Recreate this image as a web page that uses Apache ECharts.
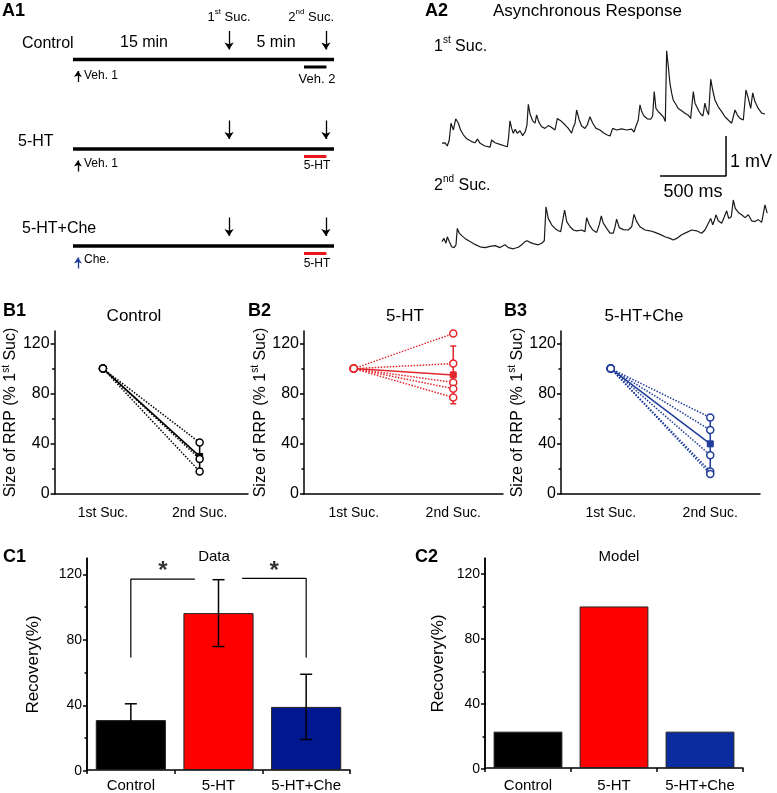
<!DOCTYPE html>
<html><head><meta charset="utf-8">
<script src="https://cdn.jsdelivr.net/npm/echarts@6.0.0/dist/echarts.min.js"></script>
<style>html,body{margin:0;padding:0;background:#fff}#c{width:777px;height:793px}</style>
</head><body><div id="c"></div>
<script>
// ---------------- DATA ----------------
// A1 protocol schematic (schematic timeline units: 0 = start, 1 = end)
const protocolRows = ['Control', '5-HT', '5-HT+Che'];
const sucTimes = [0.598, 0.969];
const drugWindow = [0.885, 0.971];
const drugLabels = ['Veh. 2', '5-HT', '5-HT'];
const preLabels = ['Veh. 1', 'Veh. 1', 'Che.'];
const preTime = 0.019;
const intervalLabels = ['15 min', '5 min'];

// A2 asynchronous response traces (time in ms, potential in mV)
const trace1T = [0,23,40,55,68,86,104,124,141,162,187,225,250,268,288,326,364,376,402,439,477,495,505,515,528,540,555,570,591,611,631,644,654,667,687,705,717,732,755,780,805,831,856,874,889,907,932,957,982,995,1008,1020,1040,1058,1083,1101,1121,1142,1167,1197,1222,1248,1273,1293,1323,1361,1399,1437,1455,1470,1487,1500,1513,1530,1555,1581,1596,1608,1621,1639,1657,1677,1692,1702,1715,1727,1740,1752,1770,1790,1816,1841,1866,1884,1896,1904,1917,1930,1945,1960,1977,1992,2005,2020,2036,2051,2068,2093,2119,2144,2169,2195,2207,2220,2237,2258,2283,2303,2321,2339,2354,2371,2396,2422,2447];
const trace1V = [0.92,0.93,0.85,1.0,1.42,1.25,1.53,1.42,1.25,1.13,1.03,0.96,0.93,1.02,0.92,0.85,0.82,1.0,0.93,0.89,0.85,0.83,1.08,1.48,1.29,1.17,1.27,1.17,1.23,1.11,1.21,1.38,1.89,1.65,1.48,1.42,1.63,1.46,1.33,1.29,1.36,1.31,1.25,1.54,1.58,1.46,1.38,1.29,1.17,1.32,1.42,1.75,1.5,1.35,1.29,1.38,1.58,1.42,1.29,1.25,1.18,1.13,1.1,1.29,1.25,1.28,1.25,1.27,1.2,1.35,1.5,1.88,1.71,1.6,1.53,1.52,1.6,2.21,1.79,1.71,1.65,1.58,1.46,3.23,2.83,2.42,2.17,2.0,1.9,1.79,1.73,1.67,1.62,1.54,1.5,2.21,1.92,1.83,1.73,1.65,1.6,1.92,1.75,1.63,2.52,2.25,2.0,1.83,1.71,1.58,1.5,1.42,1.46,1.75,1.63,1.54,1.5,2.25,2.04,1.79,2.18,1.96,1.79,1.67,1.65];
const trace2T = [0,15,30,40,55,73,91,106,116,131,149,174,212,250,288,326,364,402,439,477,503,540,578,604,629,646,667,692,730,755,775,788,805,831,856,881,899,914,929,945,970,995,1020,1058,1083,1096,1116,1142,1172,1192,1207,1222,1248,1273,1298,1311,1323,1343,1374,1411,1437,1455,1475,1500,1538,1576,1614,1652,1689,1727,1752,1778,1816,1854,1892,1930,1967,1992,2018,2036,2051,2061,2076,2093,2119,2139,2157,2172,2192,2207,2222,2245,2270,2296,2321,2346,2371,2396,2422,2447,2464];
const trace2V = [0.71,0.79,0.67,0.83,0.71,0.58,0.56,0.63,1.04,0.92,0.86,0.79,0.71,0.64,0.58,0.56,0.59,0.61,0.56,0.63,0.56,0.53,0.57,0.63,0.71,0.73,0.69,0.66,0.63,0.67,0.73,1.58,1.29,1.13,1.04,0.98,0.96,1.23,1.5,1.21,1.08,1.0,0.98,1.0,0.96,1.31,1.13,1.0,0.94,1.14,1.35,1.17,1.04,0.92,0.92,1.08,1.27,1.06,1.01,1.0,1.08,1.39,1.21,1.08,1.0,0.98,0.94,0.89,0.83,0.79,0.75,0.79,0.88,0.94,1.0,0.98,0.92,1.0,1.17,1.29,1.13,1.21,1.38,1.23,1.17,1.33,1.48,1.29,1.33,1.75,1.54,1.44,1.38,1.31,1.38,1.23,1.21,1.26,1.19,1.63,1.42];
const scaleBarMs = 500;
const scaleBarMv = 1;

// B: size of RRP (% of 1st Suc)
const bCats = ['1st Suc.', '2nd Suc.'];
const b1First = 100, b1Second = [41, 28, 18], b1Mean = [100, 30], b1Err = 10;
const b2First = 100, b2Second = [128, 104, 89, 84, 77], b2Mean = [100, 95], b2Err = 23;
const b3First = 100, b3Second = [61, 51, 31, 18, 16], b3Mean = [100, 40], b3Err = 21;
const bTitles = ['Control', '5-HT', '5-HT+Che'];

// C: recovery (%)
const cCats = ['Control', '5-HT', '5-HT+Che'];
const c1Means = [30.6, 96.2, 38.7];
const c1Errs = [10, 20.5, 20];
const c2Values = [22.5, 100, 22.5];
const sigPairs = [[0, 1], [1, 2]];
const sigLabel = '*';

const yTicks = [0, 40, 80, 120];
const yMinorTicks = [20, 60, 100];
const yMax = 130;

// ---------------- STYLE / LAYOUT ----------------
const FONT = '"Liberation Sans", Arial, Helvetica, sans-serif';
const RED_B = '#e3262c', BLUE_B = '#1f3c98';
const cColors1 = ['#000000', '#ff0000', '#00178f'];
const cColors2 = ['#000000', '#ff0000', '#0b2c9f'];
const drugColors = ['#000000', '#e8161c', '#e8161c'];
const preColors = ['#000000', '#000000', '#1f3c98'];
function axLine() { return {color: '#000', width: 1.5}; }

const grid = [], xAxis = [], yAxis = [], series = [], graphic = [];

function txt(x, y, text, size, align, extra) {
  return {type: 'text', x: x, y: y, silent: true, z: 50,
    style: Object.assign({text: text, fontSize: size, fontFamily: FONT, fill: '#000',
      align: align, textAlign: align, verticalAlign: 'middle', textVerticalAlign: 'middle'}, extra || {})};
}
function supTxt(x, y, base, sup, rest, size, align) {
  const rich = {
    n: {fontSize: size, fontFamily: FONT, fill: '#000', lineHeight: Math.round(size * 1.45)},
    s: {fontSize: Math.round(size * 0.62), fontFamily: FONT, fill: '#000', verticalAlign: 'top'}
  };
  return txt(x, y, '{n|' + base + '}{s|' + sup + '}{n|' + rest + '}', size, align, {rich: rich});
}
function errBar(capHalf, color, width) {
  return function (params, api) {
    const x = api.value(0);
    const lo = api.coord([x, api.value(1)]);
    const hi = api.coord([x, api.value(2)]);
    const st = {stroke: color, lineWidth: width};
    return {type: 'group', children: [
      {type: 'line', shape: {x1: lo[0], y1: lo[1], x2: hi[0], y2: hi[1]}, style: st},
      {type: 'line', shape: {x1: hi[0] - capHalf, y1: hi[1], x2: hi[0] + capHalf, y2: hi[1]}, style: st},
      {type: 'line', shape: {x1: lo[0] - capHalf, y1: lo[1], x2: lo[0] + capHalf, y2: lo[1]}, style: st}
    ]};
  };
}
// value axis of a panel: line, major ticks, labels, name; plus an overlaid minor-tick axis
function valueAxes(gi, labelSize, name, nameGap, nameStyle) {
  const yi = yAxis.length;
  yAxis.push({type: 'value', gridIndex: gi, position: 'left', min: 0, max: yMax, z: 10,
    axisLine: {show: true, onZero: false, lineStyle: axLine()},
    axisTick: {show: true, customValues: yTicks, length: 4, lineStyle: axLine()},
    axisLabel: {show: true, customValues: yTicks, color: '#000', fontSize: labelSize, margin: 5, fontFamily: FONT},
    splitLine: {show: false},
    name: name, nameLocation: 'middle', nameGap: nameGap, nameTextStyle: nameStyle});
  yAxis.push({type: 'value', gridIndex: gi, position: 'left', min: 0, max: yMax, z: 10,
    axisLine: {show: false, onZero: false}, axisTick: {show: true, customValues: yMinorTicks, length: 2.5, lineStyle: axLine()},
    axisLabel: {show: false}, splitLine: {show: false}});
  return yi;
}

// ---------------- A1 ----------------
const rowLineY = [59.5, 149, 246];
protocolRows.forEach(function (name, r) {
  grid.push({left: 73, width: 261, top: rowLineY[r] - 30, height: 60});
  const gi = grid.length - 1;
  const xi = xAxis.length, yi = yAxis.length;
  xAxis.push({type: 'value', gridIndex: gi, min: 0, max: 1, show: false});
  yAxis.push({type: 'value', gridIndex: gi, min: -3, max: 3, show: false});
  series.push({type: 'line', xAxisIndex: xi, yAxisIndex: yi, data: [[0, 0], [1, 0]], symbol: 'none',
    lineStyle: {width: 3.5, color: '#000'}, silent: true});
  series.push({type: 'line', xAxisIndex: xi, yAxisIndex: yi, data: [[drugWindow[0], -0.75], [drugWindow[1], -0.75]],
    symbol: 'none', lineStyle: {width: 3, color: drugColors[r]}, silent: true});
  series.push({type: 'lines', coordinateSystem: 'cartesian2d', xAxisIndex: xi, yAxisIndex: yi,
    symbol: ['none', 'arrow'], symbolSize: 7, silent: true,
    lineStyle: {color: '#000', width: 1.3, opacity: 1},
    data: sucTimes.map(function (t) { return {coords: [[t, 2.85], [t, 1.0]]}; })});
  series.push({type: 'lines', coordinateSystem: 'cartesian2d', xAxisIndex: xi, yAxisIndex: yi,
    symbol: ['none', 'arrow'], symbolSize: 6, silent: true,
    lineStyle: {color: preColors[r], width: 1.3, opacity: 1},
    data: [{coords: [[preTime, -2.25], [preTime, -1.15]]}]});
});
graphic.push(txt(2, 11, 'A1', 18, 'left', {fontWeight: 'bold'}));
graphic.push(supTxt(229, 17, '1', 'st', ' Suc.', 13, 'center'));
graphic.push(supTxt(334, 17, '2', 'nd', ' Suc.', 13, 'right'));
graphic.push(txt(144, 43, intervalLabels[0], 16, 'center'));
graphic.push(txt(276, 43, intervalLabels[1], 16, 'center'));
const rowLabelPos = [[22, 44], [18, 142], [22, 229]];
const preLabelY = [76, 164, 260];
const drugLabelY = [79, 166, 264];
protocolRows.forEach(function (name, r) {
  graphic.push(txt(rowLabelPos[r][0], rowLabelPos[r][1], name, 16, 'left'));
  graphic.push(txt(84, preLabelY[r], preLabels[r], 12, 'left'));
  graphic.push(txt(317, drugLabelY[r], drugLabels[r], r === 0 ? 13 : 12, 'center'));
});

// ---------------- A2 ----------------
const traceGrids = [{top: 40, height: 140, max: 3.5}, {top: 190, height: 80, max: 2}];
[[trace1T, trace1V], [trace2T, trace2V]].forEach(function (tr, k) {
  grid.push({left: 442, width: 326, top: traceGrids[k].top, height: traceGrids[k].height});
  const gi = grid.length - 1;
  const xi = xAxis.length, yi = yAxis.length;
  xAxis.push({type: 'value', gridIndex: gi, min: 0, max: 2470, show: false});
  yAxis.push({type: 'value', gridIndex: gi, min: 0, max: traceGrids[k].max, show: false});
  series.push({type: 'line', xAxisIndex: xi, yAxisIndex: yi, symbol: 'none', silent: true,
    data: tr[0].map(function (t, i) { return [t, tr[1][i]]; }),
    lineStyle: {color: '#1a1a1a', width: 1.2}});
  if (k === 0) {
    const sbX = 2152, sbY = 0.1;
    series.push({type: 'line', xAxisIndex: xi, yAxisIndex: yi, symbol: 'none', silent: true,
      data: [[sbX - scaleBarMs, sbY], [sbX, sbY], [sbX, sbY + scaleBarMv]],
      lineStyle: {color: '#000', width: 1.5}});
  }
});
graphic.push(txt(425, 11, 'A2', 18, 'left', {fontWeight: 'bold'}));
graphic.push(txt(493, 11, 'Asynchronous Response', 17, 'left'));
graphic.push(supTxt(434, 47, '1', 'st', ' Suc.', 16, 'left'));
graphic.push(supTxt(434, 186, '2', 'nd', ' Suc.', 16, 'left'));
graphic.push(txt(730, 162, scaleBarMv + ' mV', 18, 'left'));
graphic.push(txt(693, 192, scaleBarMs + ' ms', 18, 'center'));

// ---------------- B ----------------
const bPanels = [
  {first: b1First, second: b1Second, mean: b1Mean, err: b1Err, color: '#000000'},
  {first: b2First, second: b2Second, mean: b2Mean, err: b2Err, color: RED_B},
  {first: b3First, second: b3Second, mean: b3Mean, err: b3Err, color: BLUE_B}
];
const bLeft = [49, 304, 561];
const bLabelX = [3, 248, 504];
const bTitleX = [134, 405, 644];
bPanels.forEach(function (p, k) {
  grid.push({left: bLeft[k], top: 331, width: 199, height: 163});
  const gi = grid.length - 1;
  const xi = xAxis.length;
  xAxis.push({type: 'category', gridIndex: gi, data: bCats, boundaryGap: true,
    axisLine: {onZero: false, lineStyle: axLine()}, axisTick: {alignWithLabel: true, length: 4, lineStyle: axLine()},
    axisLabel: {interval: 0, color: '#000', fontSize: 14, margin: 12, fontFamily: FONT}, splitLine: {show: false}});
  const yi = valueAxes(gi, 16, '{n|Size of RRP (% 1}{s|st}{n| Suc)}', 33, {rich: {
      n: {fontSize: 16, fontFamily: FONT, color: '#000', lineHeight: 20},
      s: {fontSize: 10, fontFamily: FONT, color: '#000', verticalAlign: 'top'}}});
  series.push({type: 'custom', xAxisIndex: xi, yAxisIndex: yi, silent: true, z: 2,
    renderItem: errBar(3, p.color, 1.5),
    data: [[1, p.mean[1] - p.err, p.mean[1] + p.err]]});
  series.push({type: 'line', xAxisIndex: xi, yAxisIndex: yi, silent: true, z: 3,
    data: [
      {value: p.mean[0], symbol: 'circle', symbolSize: 7, itemStyle: {color: '#fff', borderColor: p.color, borderWidth: 1.5}},
      {value: p.mean[1], symbol: 'rect', symbolSize: 6, itemStyle: {color: p.color, borderColor: p.color, borderWidth: 1}}
    ],
    lineStyle: {color: p.color, width: 1.5}});
  p.second.forEach(function (v) {
    series.push({type: 'line', xAxisIndex: xi, yAxisIndex: yi, silent: true, z: 4,
      data: [p.first, v], symbol: 'circle', symbolSize: 7,
      itemStyle: {color: '#fff', borderColor: p.color, borderWidth: 1.5},
      lineStyle: {color: p.color, width: 1.5, type: 'dotted'}});
  });
  graphic.push(txt(bLabelX[k], 311, 'B' + (k + 1), 18, 'left', {fontWeight: 'bold'}));
  graphic.push(txt(bTitleX[k], 316, bTitles[k], 17, 'center'));
});

// ---------------- C ----------------
function cPanel(left, width, height, values, errs, colors, nameGap, labelMargin) {
  const box = {left: left, top: 558, width: width, height: height};
  // data grid (bars, error bars, brackets)
  grid.push(Object.assign({}, box));
  const gi = grid.length - 1;
  const xi = xAxis.length;
  xAxis.push({type: 'category', gridIndex: gi, data: cCats, boundaryGap: true,
    axisLine: {show: true, onZero: false, lineStyle: axLine()}, axisTick: {show: true, length: 4, lineStyle: axLine()},
    axisLabel: {interval: 0, color: '#000', fontSize: 15, margin: labelMargin, fontFamily: FONT}, splitLine: {show: false}});
  const xv = xAxis.length;
  xAxis.push({type: 'value', gridIndex: gi, min: -0.5, max: cCats.length - 0.5, show: false, axisLine: {onZero: false}});
  const yi = yAxis.length;
  yAxis.push({type: 'value', gridIndex: gi, min: 0, max: yMax, show: false});
  series.push({type: 'bar', xAxisIndex: xi, yAxisIndex: yi, silent: true, barWidth: '80%',
    data: values.map(function (v, i) { return {value: v, itemStyle: {color: colors[i]}}; }),
    itemStyle: {borderColor: '#222', borderWidth: 1}});
  if (errs) {
    series.push({type: 'custom', xAxisIndex: xi, yAxisIndex: yi, silent: true, z: 5,
      renderItem: errBar(6, '#000', 1.5),
      data: values.map(function (m, i) { return [i, m - errs[i], m + errs[i]]; })});
  }
  // overlay grid with the same box carrying the value axis (line, ticks, labels, name)
  grid.push(Object.assign({}, box));
  const ga = grid.length - 1;
  const xa = xAxis.length;
  xAxis.push({type: 'value', gridIndex: ga, min: -0.5, max: cCats.length - 0.5, show: false, axisLine: {onZero: false}});
  const ya = valueAxes(ga, 14, 'Recovery(%)', nameGap, {fontSize: 17, fontFamily: FONT, color: '#000'});
  series.push({type: 'line', xAxisIndex: xa, yAxisIndex: ya, data: [[-0.5, 0], [-0.5, yMax]], symbol: 'none',
    silent: true, clip: false, z: 10, lineStyle: {color: '#000', width: 1.5}});
  return {gi: gi, yi: yi, xv: xv};
}
const c1 = cPanel(87, 263, 213, c1Means, c1Errs, cColors1, 45, 8);
// significance brackets (drawn on the hidden value x axis of the C1 grid)
const bracketTop = 117, bracketLeg = 69, bracketGap = 0.27;
const starPts = [];
sigPairs.forEach(function (pair, k) {
  let pts;
  if (k === 0) {
    pts = [[pair[0], bracketLeg], [pair[0], bracketTop], [pair[1] - bracketGap, bracketTop]];
    starPts.push([(pair[0] + pair[1] - bracketGap) / 2, bracketTop + 5]);
  } else {
    pts = [[pair[0] + bracketGap, bracketTop + 0.5], [pair[1], bracketTop + 0.5], [pair[1], bracketLeg]];
    starPts.push([(pair[0] + bracketGap + pair[1]) / 2, bracketTop + 5]);
  }
  series.push({type: 'line', xAxisIndex: c1.xv, yAxisIndex: c1.yi, data: pts, symbol: 'none', silent: true,
    lineStyle: {color: '#000', width: 1.2}});
});
series.push({type: 'scatter', xAxisIndex: c1.xv, yAxisIndex: c1.yi, data: starPts, symbolSize: 0, silent: true,
  label: {show: true, position: 'inside', formatter: sigLabel, fontSize: 24, fontWeight: 'bold', color: '#000', fontFamily: FONT}});

cPanel(485, 258, 211, c2Values, null, cColors2, 38, 10);

graphic.push(txt(3, 557, 'C1', 18, 'left', {fontWeight: 'bold'}));
graphic.push(txt(415, 557, 'C2', 18, 'left', {fontWeight: 'bold'}));
graphic.push(txt(214, 557, 'Data', 15, 'center'));
graphic.push(txt(619, 557, 'Model', 15, 'center'));

const chart = echarts.init(document.getElementById('c'));
chart.setOption({
  animation: false,
  backgroundColor: '#fff',
  textStyle: {fontFamily: FONT},
  grid: grid, xAxis: xAxis, yAxis: yAxis, series: series, graphic: graphic
});
</script></body></html>
